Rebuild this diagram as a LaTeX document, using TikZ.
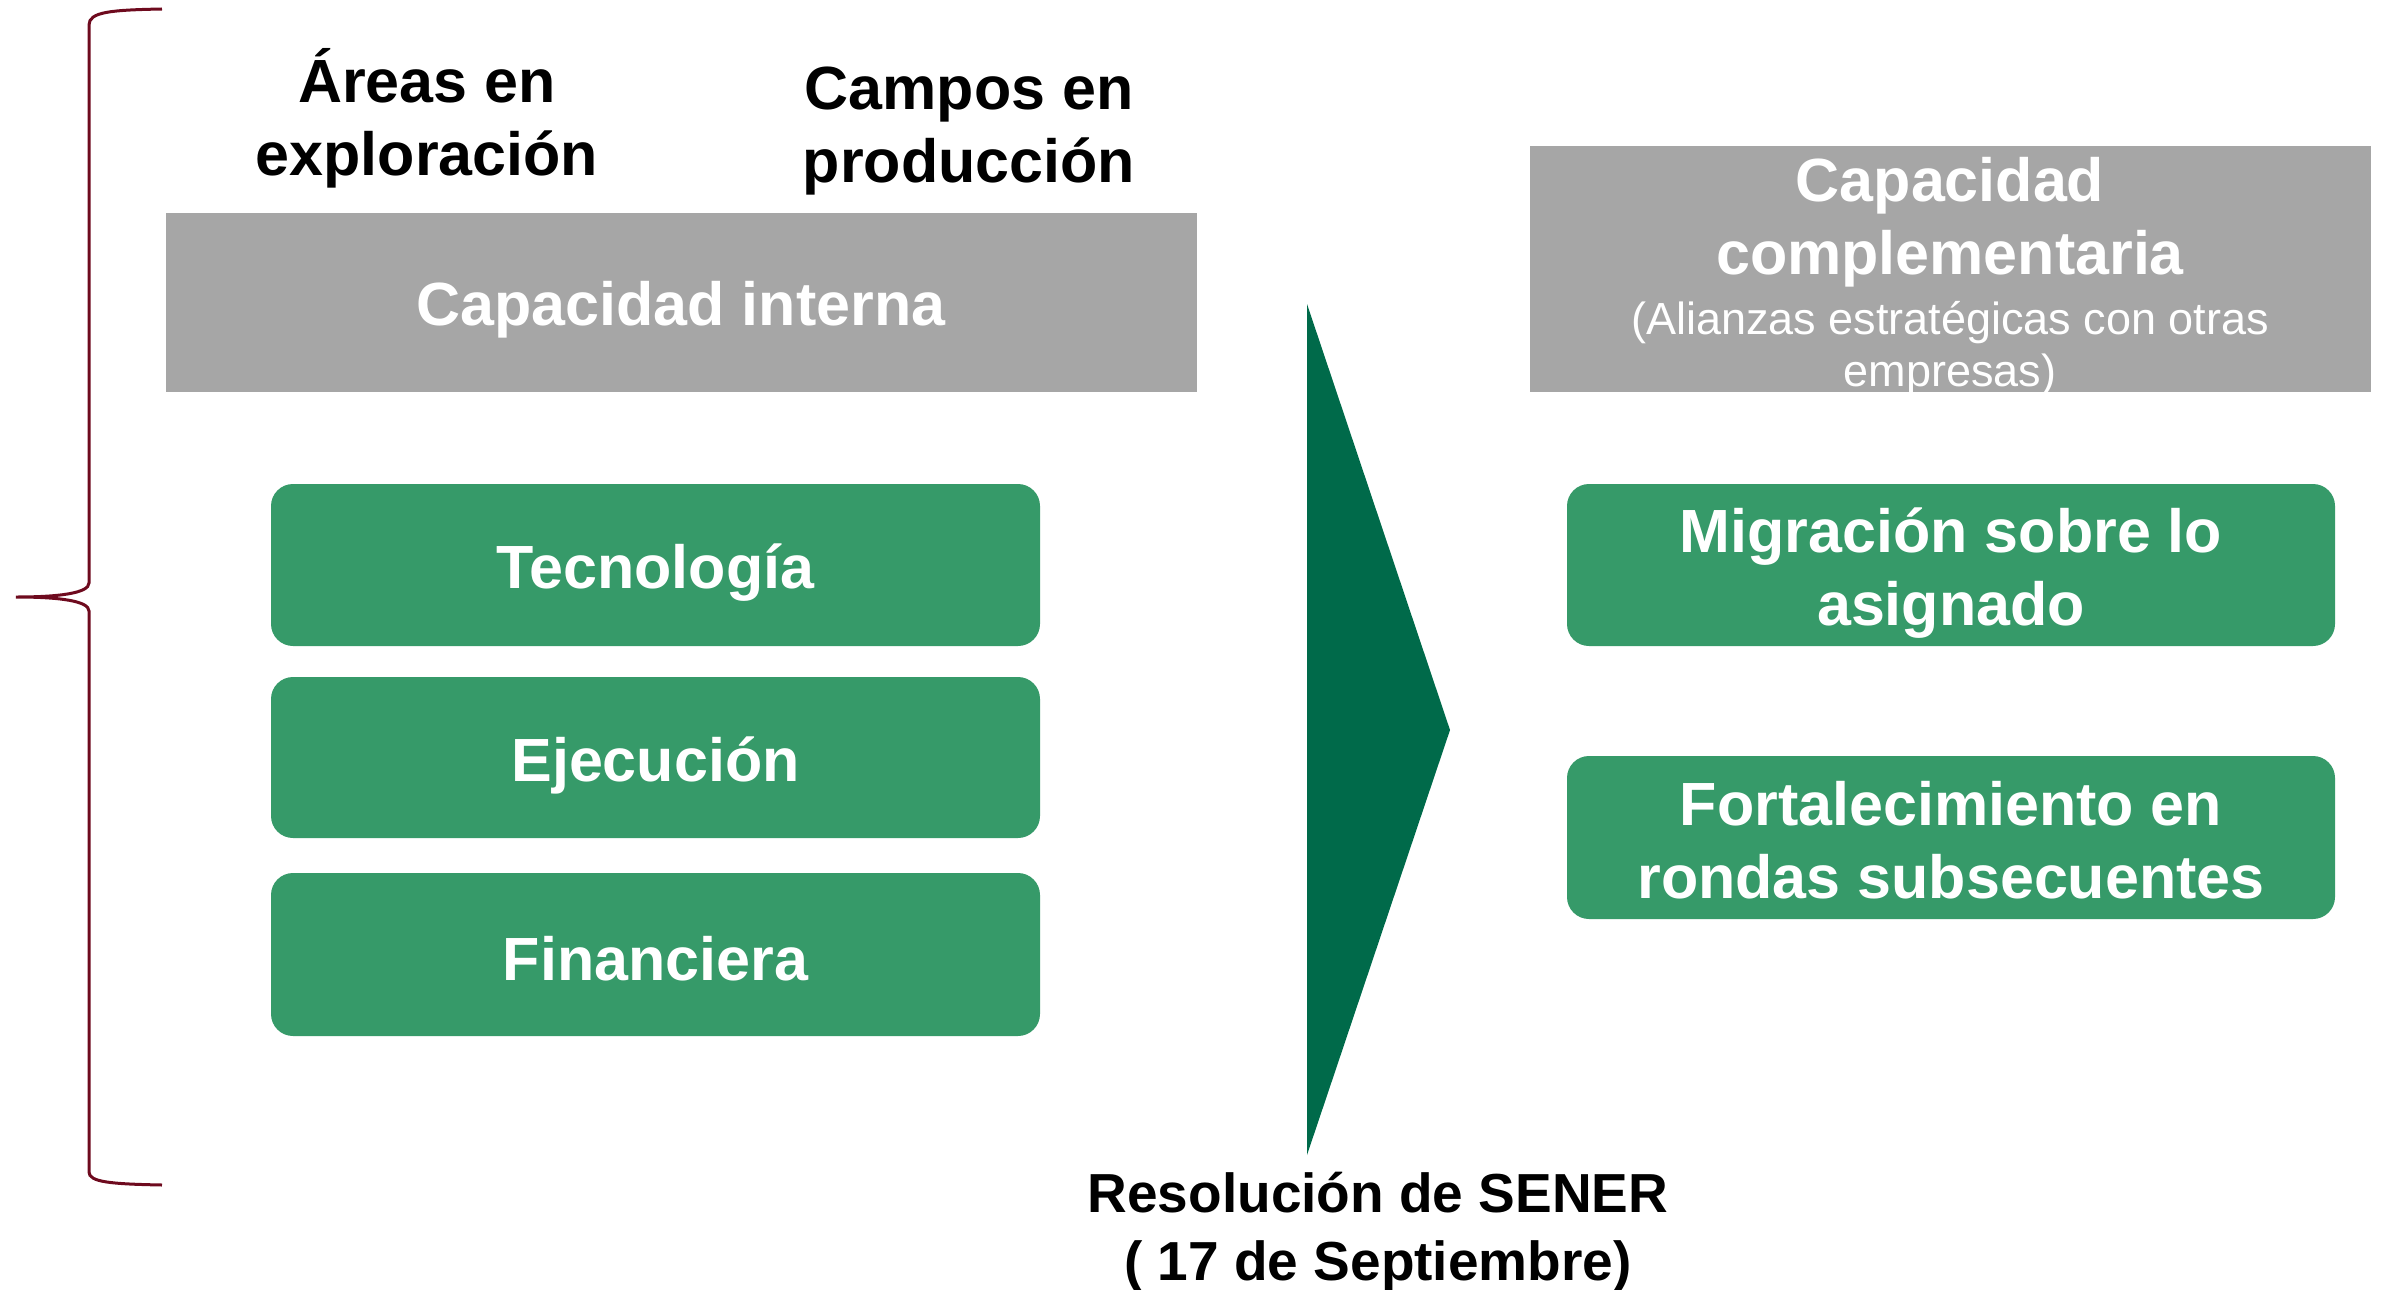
\documentclass[tikz,border=0pt]{standalone}
\usepackage{fontspec}
\setmainfont{Liberation Sans}
\definecolor{greybox}{HTML}{A6A6A6}
\definecolor{greenbox}{HTML}{369A69}
\definecolor{darkgreen}{HTML}{006A4A}
\definecolor{bracered}{HTML}{6E0A1E}
\begin{document}
\begin{tikzpicture}[x=1pt,y=-1pt,
  big/.style={font=\fontsize{61}{73}\selectfont\bfseries, align=center, inner sep=0pt},
  greyrect/.style={fill=greybox, draw=none},
  greenrect/.style={fill=greenbox, draw=none, rounded corners=22pt},
  wtext/.style={big, text=white},
  btext/.style={big, text=black}]
\useasboundingbox (0,0) rectangle (2385,1290);
% brace
\draw[bracered, line width=3pt]
  (162,9) .. controls (110,10) and (89,12) .. (89,25) -- (89,583)
  .. controls (89,593) and (60,597) .. (16,597)
  .. controls (60,597) and (89,601) .. (89,611) -- (89,1172)
  .. controls (89,1182) and (110,1184) .. (162,1185);
% top labels
\node[btext] (areas) at (427,118) {Áreas en\\exploración};
\node[btext] (campos) at (969,131) {Campos en\\producción};
% left grey box
\fill[greyrect] (166,213) rectangle (1197,392);
\node[wtext] (ci) at (681,310) {Capacidad interna};
% left green boxes
\fill[greenrect] (271,484) rectangle (1040,646);
\node[wtext] (tec) at (655.5,573) {Tecnología};
\fill[greenrect] (271,677) rectangle (1040,838);
\node[wtext] (eje) at (655.5,765) {Ejecución};
\fill[greenrect] (271,873) rectangle (1040,1036);
\node[wtext] (fin) at (655.5,959) {Financiera};
% arrow
\fill[darkgreen] (1307,304) -- (1450,730) -- (1307,1155) -- cycle;
\node[font=\fontsize{55}{68}\selectfont\bfseries, align=center, inner sep=0pt] (res) at (1378,1232) {Resolución de SENER\\( 17 de Septiembre)};
% right grey box
\fill[greyrect] (1530,146) rectangle (2371,392);
\begin{scope}
\clip (1530,146) rectangle (2371,392);
\node[wtext] (cc) at (1950,222) {Capacidad\\complementaria};
\node[font=\fontsize{45}{52}\selectfont, text=white, align=center, inner sep=0pt] (ali) at (1950,349) {(Alianzas estratégicas con otras\\empresas)};
\end{scope}
% right green boxes
\fill[greenrect] (1567,484) rectangle (2335,646);
\node[wtext] (mig) at (1951,573) {Migración sobre lo\\asignado};
\fill[greenrect] (1567,756) rectangle (2335,919);
\node[wtext] (fort) at (1951,840) {Fortalecimiento en\\rondas subsecuentes};
\end{tikzpicture}
\end{document}
